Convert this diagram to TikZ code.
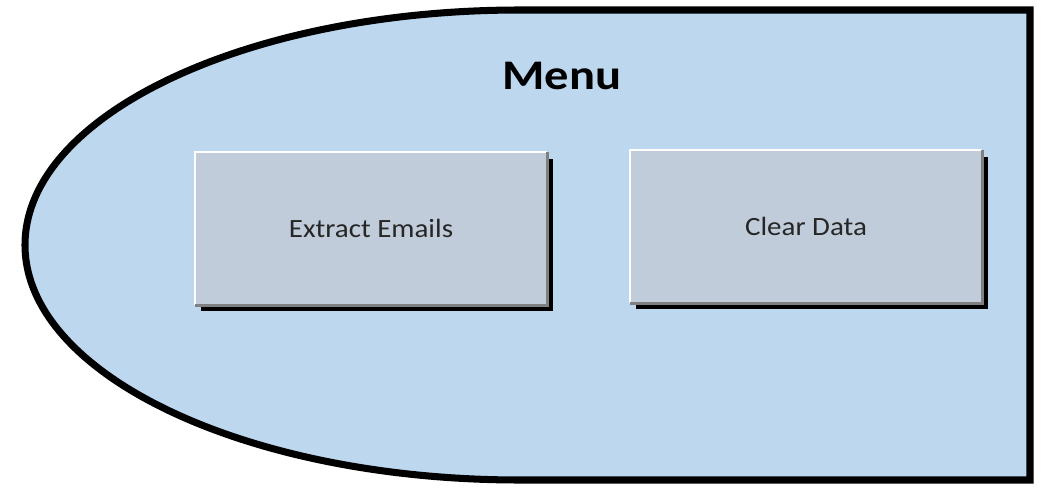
\documentclass[tikz,border=0pt]{standalone}
\usepackage{fontspec}
\setmainfont{Carlito}
\usetikzlibrary{shadows}
\definecolor{menublue}{RGB}{189,215,238}
\definecolor{btngray}{RGB}{192,204,218}
\definecolor{btnedge}{RGB}{128,128,128}
\begin{document}
\begin{tikzpicture}[x=0.02cm,y=0.02cm,
  button/.style={fill=btngray,minimum width=7.04cm,minimum height=3.06cm,font=\fontsize{15}{18}\selectfont,text=black!85,xscale=1.1,
    drop shadow={shadow xshift=0.12cm,shadow yshift=-0.13cm,fill=black,opacity=1}}]
  \useasboundingbox[fill=white] (0,0) rectangle (1058,491);
  \draw[line width=4pt,fill=menublue] (1030,481) -- (520,481) arc[start angle=90,end angle=270,x radius=495,y radius=235] -- (1030,11) -- cycle;
  \node[font=\fontsize{24}{28}\selectfont\bfseries,xscale=1.15] (menu) at (562,415.5) {Menu};
  \node[button,minimum width=6.4cm] (extract) at (371,262.5) {Extract Emails};
  \node[button,minimum width=6.4cm] (clear) at (806,264.5) {Clear Data};
  \foreach \b in {extract,clear} {
    \draw[white,line width=1.2pt] (\b.south west) -- (\b.north west) -- (\b.north east);
    \draw[btnedge,line width=1.5pt] (\b.north east) -- (\b.south east) -- (\b.south west);
  }
\end{tikzpicture}
\end{document}
